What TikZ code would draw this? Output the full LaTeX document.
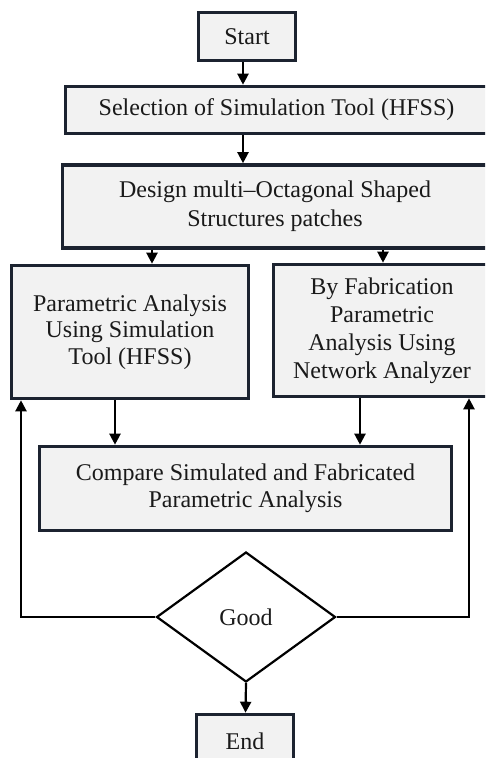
\documentclass[tikz,border=0pt]{standalone}
\usepackage{fontspec}
\setmainfont{Liberation Serif}
\usetikzlibrary{arrows.meta,shapes.geometric}
\definecolor{boxline}{HTML}{1C2330}
\definecolor{boxfill}{HTML}{F2F2F2}
\definecolor{txt}{HTML}{1A1A1A}
\begin{document}
\begin{tikzpicture}[x=1pt,y=-1pt,
  stepbox/.style={draw=boxline,fill=boxfill,line width=3.6pt,inner sep=0pt,align=center,text=txt,
    font=\fontsize{24}{27}\selectfont},
  decision/.style={draw=black,fill=white,diamond,line width=2.2pt,inner sep=0pt,text=txt,
    font=\fontsize{24}{27}\selectfont,minimum width=179pt,minimum height=130pt},
  arr/.style={line width=2.2pt,-{Triangle[length=11pt,width=11pt]}},
  fb/.style={line width=2.2pt}]
\clip (0,0) rectangle (485,758);
\fill[white] (0,0) rectangle (485,758);

\node[stepbox,minimum width=97pt,minimum height=48pt] (st) at (247,36.5) {Start};
\node[stepbox,minimum width=422pt,minimum height=47pt] (sel) at (276.5,110) {Selection of Simulation Tool (HFSS)};
\node[stepbox,minimum width=425pt,minimum height=83pt,font=\fontsize{24}{29}\selectfont] (des) at (275,206.5) {Design multi–Octagonal Shaped\\Structures patches};
\node[stepbox,minimum width=237pt,minimum height=133pt,font=\fontsize{24}{26.5}\selectfont] (lb) at (130,332) {Parametric Analysis\\Using Simulation\\Tool (HFSS)};
\node[stepbox,minimum width=217pt,minimum height=132pt,font=\fontsize{24}{28}\selectfont] (rb) at (382,330.5) {By Fabrication\\Parametric\\Analysis Using\\Network Analyzer};
\node[stepbox,minimum width=412pt,minimum height=84pt,font=\fontsize{24}{27.5}\selectfont] (cmp) at (245.5,488.5) {Compare Simulated and Fabricated\\Parametric Analysis};
\node[decision] (good) at (246,617) {Good};
\node[stepbox,minimum width=97pt,minimum height=54pt] (en) at (245,741.5) {End};

\coordinate (cx) at (243,0);
\coordinate (cl) at (152,0);
\coordinate (cr) at (383,0);
\coordinate (ml) at (115,0);
\coordinate (mr) at (360,0);
\coordinate (fl) at (21,0);
\coordinate (fr) at (469,0);
\coordinate (ce) at (245.5,0);

\draw[arr] (cx |- st.south) -- (cx |- sel.north);
\draw[arr] (cx |- sel.south) -- (cx |- des.north);
\draw[arr] (cl |- des.south) -- (cl |- lb.north);
\draw[arr] (cr |- des.south) -- (cr |- rb.north);
\draw[arr] (ml |- lb.south) -- (ml |- cmp.north);
\draw[arr] (mr |- rb.south) -- (mr |- cmp.north);
\draw[arr] (good.south) -- (ce |- en.north);
\draw[fb,-{Triangle[length=11pt,width=11pt]}] (good.west) -- (fl |- good.west) -- (fl |- lb.south);
\draw[fb,-{Triangle[length=11pt,width=11pt]}] (good.east) -- (fr |- good.east) -- (fr |- rb.south);
\end{tikzpicture}
\end{document}
